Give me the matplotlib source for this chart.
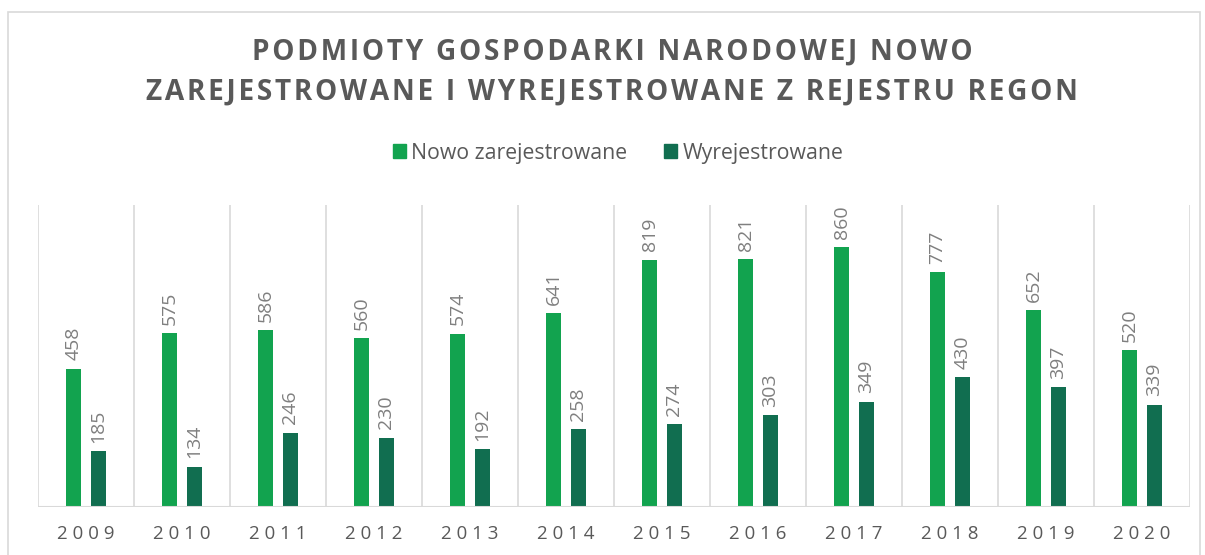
import matplotlib
matplotlib.use("Agg")
import matplotlib.pyplot as plt
import numpy as np
from matplotlib.patches import Rectangle

years = ["2009", "2010", "2011", "2012", "2013", "2014", "2015", "2016", "2017", "2018", "2019", "2020"]
nowo = [458, 575, 586, 560, 574, 641, 819, 821, 860, 777, 652, 520]
wyrej = [185, 134, 246, 230, 192, 258, 274, 303, 349, 430, 397, 339]
series_names = ["Nowo zarejestrowane", "Wyrejestrowane"]
title_lines = ["PODMIOTY GOSPODARKI NARODOWEJ NOWO", "ZAREJESTROWANE I WYREJESTROWANE Z REJESTRU REGON"]

GREEN = "#12A34F"
DARK = "#116E50"
TXT = "#595959"
LBL = "#7F7F7F"
GRID = "#D9D9D9"
FONT = ["Open Sans", "DejaVu Sans"]

def spaced(s, sep="\u200a"):
    return sep.join(s)

fig = plt.figure(figsize=(12.05, 5.55), dpi=100)
W, H = 1205, 555
fig.patches.append(Rectangle((8 / W, -0.1), (1200 - 8) / W, (555 - 12) / H + 0.1,
                             transform=fig.transFigure, fill=False, edgecolor=GRID, lw=1.2))

ax = fig.add_axes([38 / W, 48 / H, (1190 - 38) / W, 302 / H])
x = np.arange(len(years))
bw = 0.15
off = 0.13
ax.bar(x - off, nowo, bw, color=GREEN, zorder=3)
ax.bar(x + off, wyrej, bw, color=DARK, zorder=3)
ax.set_xlim(-0.5, len(years) - 0.5)
ax.set_ylim(0, 1000)
for s in ax.spines.values():
    s.set_visible(False)
ax.axhline(0, color=GRID, lw=1.5, zorder=4)
for b in np.arange(-0.5, len(years) + 0.5, 1):
    ax.axvline(b, color=GRID, lw=1.2, zorder=1)
ax.set_yticks([])
ax.set_xticks(x)
ax.set_xticklabels([spaced(y, " ") for y in years], fontsize=13.5, color=TXT, family=FONT)
ax.tick_params(axis="x", length=0, pad=13)

for xi, v in zip(x, nowo):
    ax.annotate(str(v), (xi - off, v), xytext=(0, 6), textcoords="offset points",
                rotation=90, ha="center", va="bottom", fontsize=14, color=LBL, family=FONT)
for xi, v in zip(x, wyrej):
    ax.annotate(str(v), (xi + off, v), xytext=(0, 6), textcoords="offset points",
                rotation=90, ha="center", va="bottom", fontsize=14, color=LBL, family=FONT)

fig.text(612 / W, 1 - 52 / H, spaced(title_lines[0], "\u200a"), ha="center", va="center",
         fontsize=20.2, fontweight="bold", color=TXT, family=FONT)
fig.text(612 / W, 1 - 92 / H, spaced(title_lines[1], "\u200a"), ha="center", va="center",
         fontsize=20.2, fontweight="bold", color=TXT, family=FONT)

# legend
handles = [Rectangle((0, 0), 1, 1, color=GREEN), Rectangle((0, 0), 1, 1, color=DARK)]
leg = fig.legend(handles, series_names, loc="center", bbox_to_anchor=(618 / W, 1 - 153 / H),
                 ncol=2, frameon=False, prop={"family": FONT, "size": 15.3},
                 handlelength=0.6, handleheight=0.6, handletextpad=0.25, columnspacing=1.75)
for t in leg.get_texts():
    t.set_color(TXT)

fig.savefig("out.png", dpi=100)
